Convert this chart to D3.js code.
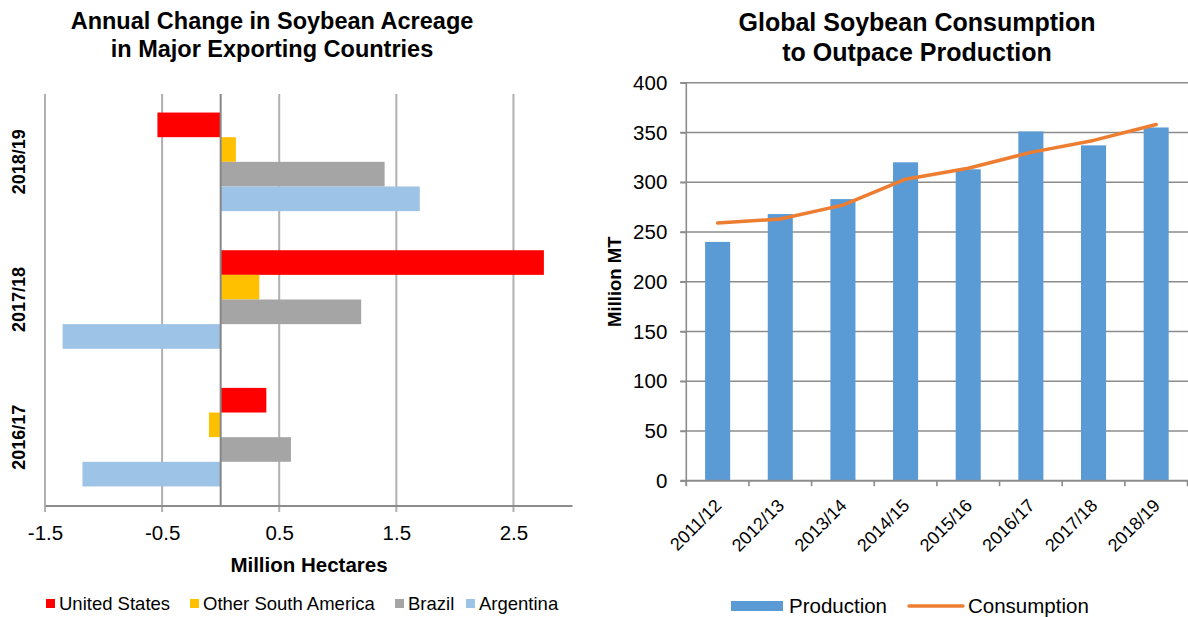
<!DOCTYPE html>
<html>
<head>
<meta charset="utf-8">
<script src="https://cdn.jsdelivr.net/npm/d3@7/dist/d3.min.js"></script>
<style>
  html, body { margin: 0; padding: 0; background: #fff; }
  svg { display: block; font-family: "Liberation Sans", Arial, sans-serif; }
</style>
</head>
<body>
<svg id="chart" width="1188" height="617"></svg>
<script>
// ---------- Left chart data ----------
const acreageYears = ["2018/19", "2017/18", "2016/17"];
const acreageSeries = ["United States", "Other South America", "Brazil", "Argentina"];
const acreageColors = ["#ff0000", "#ffc000", "#a5a5a5", "#9dc3e6"];
const usChange = [-0.54, 2.76, 0.39];
const otherSAChange = [0.13, 0.33, -0.10];
const brazilChange = [1.40, 1.20, 0.60];
const argentinaChange = [1.70, -1.35, -1.18];
const acreageTicks = [-1.5, -0.5, 0.5, 1.5, 2.5];

// ---------- Right chart data ----------
const marketYears = ["2011/12", "2012/13", "2013/14", "2014/15", "2015/16", "2016/17", "2017/18", "2018/19"];
const production = [240, 268, 283, 320, 313, 351, 337, 355];
const consumption = [259, 263, 277, 303, 314, 330, 342, 358];
const mtTicks = [0, 50, 100, 150, 200, 250, 300, 350, 400];

const svg = d3.select("#chart");
const FONT = '"Liberation Sans", Arial, sans-serif';

// ================= LEFT CHART =================
const acreageValues = [usChange, otherSAChange, brazilChange, argentinaChange];
const L = { left: 45, right: 572, top: 93, bottom: 506 };
const xL = d3.scaleLinear().domain([-1.5, 3.0]).range([L.left, L.right]);
const yL = d3.scaleBand().domain(acreageYears).range([L.top, L.bottom])
  .paddingInner(0.284).paddingOuter(0.142);
const ySub = d3.scaleBand().domain(acreageSeries).range([0, yL.bandwidth()]);

const left = svg.append("g");

// gridlines (extend below axis as tick marks)
left.selectAll("line.grid").data(acreageTicks).join("line")
  .attr("x1", d => xL(d)).attr("x2", d => xL(d))
  .attr("y1", 94).attr("y2", 512)
  .attr("stroke", "#b0b0b0").attr("stroke-width", 2);

// bars
acreageSeries.forEach((s, si) => {
  left.append("g").selectAll("rect").data(acreageYears).join("rect")
    .attr("x", (d, i) => xL(Math.min(0, acreageValues[si][i])))
    .attr("width", (d, i) => Math.abs(xL(acreageValues[si][i]) - xL(0)))
    .attr("y", d => yL(d) + ySub(s))
    .attr("height", ySub.bandwidth())
    .attr("fill", acreageColors[si]);
});

// zero line
left.append("line")
  .attr("x1", xL(0)).attr("x2", xL(0)).attr("y1", 94).attr("y2", 506)
  .attr("stroke", "#878787").attr("stroke-width", 2);

// x axis
const xAxisL = left.append("g").attr("transform", `translate(0,${L.bottom - 0.5})`)
  .call(d3.axisBottom(xL).tickValues(acreageTicks).tickSize(0).tickPadding(20)
    .tickFormat(d => d.toFixed(1)));
xAxisL.select(".domain").attr("stroke", "#8c8c8c").attr("stroke-width", 2);
xAxisL.selectAll("text").attr("font-family", FONT).attr("font-size", 20.5).attr("fill", "#000");

// category labels
left.selectAll("text.cat").data(acreageYears).join("text")
  .attr("transform", d => `translate(24.5,${yL(d) + yL.bandwidth() / 2}) rotate(-90)`)
  .attr("text-anchor", "middle")
  .attr("font-family", FONT).attr("font-weight", "bold").attr("font-size", 18)
  .text(d => d);

// axis title
left.append("text").attr("x", 309).attr("y", 571.5)
  .attr("text-anchor", "middle").attr("font-family", FONT)
  .attr("font-weight", "bold").attr("font-size", 20.5).text("Million Hectares");

// title
left.append("text").attr("x", 272).attr("y", 28.5).attr("text-anchor", "middle")
  .attr("font-family", FONT).attr("font-weight", "bold").attr("font-size", 23.5)
  .text("Annual Change in Soybean Acreage");
left.append("text").attr("x", 272).attr("y", 56.5).attr("text-anchor", "middle")
  .attr("font-family", FONT).attr("font-weight", "bold").attr("font-size", 23.5)
  .text("in Major Exporting Countries");

// legend
const legXs = [46, 190, 395, 466];
const legL = left.append("g");
acreageSeries.forEach((s, i) => {
  legL.append("rect").attr("x", legXs[i]).attr("y", 599).attr("width", 9).attr("height", 9)
    .attr("fill", acreageColors[i]);
  legL.append("text").attr("x", legXs[i] + 13).attr("y", 610)
    .attr("font-family", FONT).attr("font-size", 18.5).text(s);
});

// ================= RIGHT CHART =================
const R = { left: 686.3, right: 1187.5, top: 82.7, bottom: 480.7 };
const xR = d3.scaleBand().domain(marketYears).range([R.left, R.right])
  .paddingInner(0.6).paddingOuter(0.3);
const yR = d3.scaleLinear().domain([0, 400]).range([R.bottom, R.top]);

const right = svg.append("g");

// gridlines
right.selectAll("line.grid").data(mtTicks.slice(1)).join("line")
  .attr("x1", R.left - 6).attr("x2", 1188)
  .attr("y1", d => yR(d)).attr("y2", d => yR(d))
  .attr("stroke", "#8c8c8c").attr("stroke-width", 1.6);

// bars
right.append("g").selectAll("rect").data(marketYears).join("rect")
  .attr("x", d => xR(d)).attr("width", xR.bandwidth())
  .attr("y", (d, i) => yR(production[i]))
  .attr("height", (d, i) => yR(0) - yR(production[i]))
  .attr("fill", "#5b9bd5");

// consumption line
const line = d3.line()
  .x((d, i) => xR(marketYears[i]) + xR.bandwidth() / 2)
  .y(d => yR(d));
right.append("path").datum(consumption)
  .attr("d", line).attr("fill", "none")
  .attr("stroke", "#ed7d31").attr("stroke-width", 3.5)
  .attr("stroke-linecap", "round").attr("stroke-linejoin", "round");

// y axis
const yAxisR = right.append("g").attr("transform", `translate(${R.left},0)`)
  .call(d3.axisLeft(yR).tickValues(mtTicks).tickSize(6).tickPadding(13));
yAxisR.select(".domain").attr("stroke", "#8c8c8c").attr("stroke-width", 1.6)
  .attr("d", `M0,${R.top}V${R.bottom + 5}`);
yAxisR.selectAll(".tick line").attr("stroke", "#8c8c8c").attr("stroke-width", 1.6);
yAxisR.selectAll("text").attr("font-family", FONT).attr("font-size", 20.5).attr("fill", "#000");

// x axis baseline + ticks at band boundaries
right.append("line").attr("x1", R.left - 6).attr("x2", 1188)
  .attr("y1", R.bottom).attr("y2", R.bottom)
  .attr("stroke", "#8c8c8c").attr("stroke-width", 2);
const step = xR.step();
right.selectAll("line.xt").data(d3.range(marketYears.length + 1)).join("line")
  .attr("x1", i => R.left + i * step).attr("x2", i => R.left + i * step)
  .attr("y1", R.bottom).attr("y2", R.bottom + 5.5)
  .attr("stroke", "#8c8c8c").attr("stroke-width", 1.6);

// x labels rotated
right.selectAll("text.xl").data(marketYears).join("text")
  .attr("transform", d => `translate(${xR(d) + xR.bandwidth() / 2 + 5},${R.bottom + 26}) rotate(-45)`)
  .attr("text-anchor", "end")
  .attr("font-family", FONT).attr("font-size", 18).text(d => d);

// y title
right.append("text")
  .attr("transform", `translate(621,${(R.top + R.bottom) / 2}) rotate(-90)`)
  .attr("text-anchor", "middle").attr("font-family", FONT)
  .attr("font-weight", "bold").attr("font-size", 18.5).text("Million MT");

// title
right.append("text").attr("x", 917).attr("y", 31).attr("text-anchor", "middle")
  .attr("font-family", FONT).attr("font-weight", "bold").attr("font-size", 25)
  .text("Global Soybean Consumption");
right.append("text").attr("x", 917).attr("y", 61).attr("text-anchor", "middle")
  .attr("font-family", FONT).attr("font-weight", "bold").attr("font-size", 25)
  .text("to Outpace Production");

// legend
right.append("rect").attr("x", 731).attr("y", 601).attr("width", 52).attr("height", 10)
  .attr("fill", "#5b9bd5");
right.append("text").attr("x", 789).attr("y", 612.5).attr("font-family", FONT)
  .attr("font-size", 20.5).text("Production");
right.append("line").attr("x1", 909).attr("x2", 963).attr("y1", 606).attr("y2", 606)
  .attr("stroke", "#ed7d31").attr("stroke-width", 3.5).attr("stroke-linecap", "round");
right.append("text").attr("x", 968).attr("y", 612.5).attr("font-family", FONT)
  .attr("font-size", 20.5).text("Consumption");
</script>
</body>
</html>
